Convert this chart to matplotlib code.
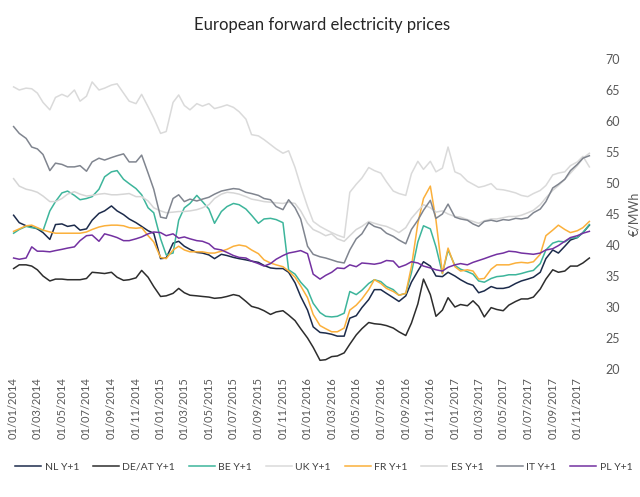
import pandas as pd
import matplotlib
matplotlib.use('Agg')
import matplotlib.pyplot as plt
import matplotlib.dates as mdates

plt.rcParams['font.family'] = ['Lato', 'DejaVu Sans']

# semi-monthly observations, 01/01/2014 .. 01/12/2017
dates = pd.date_range('2014-01-01', '2017-12-01', freq='SMS')

nl = [44.8, 43.6, 43.1, 42.9, 42.6, 42.0, 40.9, 43.3, 43.4, 43.0, 43.2, 42.4, 42.6, 44.0, 45.1, 45.5,
      46.3, 45.5, 44.9, 44.2, 43.6, 43.0, 42.3, 41.9, 37.8, 37.9, 40.3, 40.6, 39.8, 39.3, 38.8, 38.7,
      38.4, 37.8, 38.5, 38.3, 38.0, 37.8, 37.6, 37.4, 37.2, 36.7, 36.3, 36.2, 36.2, 35.6, 33.9, 31.7,
      29.5, 26.8, 25.9, 25.8, 25.6, 25.3, 25.3, 28.2, 28.6, 29.9, 31.2, 32.8, 32.8, 32.2, 31.5, 30.9,
      31.8, 34.0, 35.8, 37.3, 36.6, 35.0, 34.9, 35.6, 35.0, 34.4, 33.8, 33.5, 32.3, 32.6, 33.3, 33.0,
      33.0, 33.2, 33.8, 34.2, 34.5, 34.8, 35.6, 37.8, 39.2, 38.7, 39.8, 40.8, 41.2, 42.0, 43.2]
de_at = [36.2, 36.8, 36.8, 36.6, 36.0, 35.0, 34.2, 34.5, 34.5, 34.4, 34.4, 34.4, 34.6, 35.6, 35.5, 35.4,
         35.6, 34.8, 34.3, 34.4, 34.7, 35.9, 34.8, 33.3, 31.7, 31.8, 32.2, 33.0, 32.3, 31.9, 31.8, 31.7,
         31.6, 31.4, 31.5, 31.7, 32.0, 31.8, 30.9, 30.1, 29.8, 29.4, 28.8, 29.2, 29.4, 28.7, 27.8, 26.5,
         25.0, 23.5, 21.4, 21.5, 22.0, 22.1, 22.6, 24.0, 25.5, 26.5, 27.5, 27.3, 27.2, 27.0, 26.6, 26.0,
         25.4, 27.4, 30.5, 34.5, 32.0, 28.5, 29.5, 31.5, 30.0, 30.4, 30.2, 31.0, 30.1, 28.4, 29.9, 29.6,
         29.4, 30.3, 30.9, 31.3, 31.3, 31.6, 32.9, 34.5, 36.0, 35.6, 35.8, 36.6, 36.6, 37.1, 37.9]
be = [41.9, 42.5, 43.0, 42.8, 42.7, 42.3, 45.5, 47.0, 48.4, 48.7, 48.0, 47.3, 47.5, 47.8, 49.0, 51.0,
      51.8, 52.0, 50.6, 49.9, 49.1, 48.1, 46.0, 45.2, 41.0, 38.4, 38.7, 44.0, 46.0, 46.7, 48.0, 47.0,
      45.8, 43.5, 45.4, 46.2, 46.7, 46.5, 45.8, 44.8, 43.5, 44.2, 44.3, 44.1, 43.6, 36.0, 35.3, 34.0,
      32.8, 30.6, 29.1, 28.5, 28.4, 28.5, 29.0, 32.5, 32.0, 32.7, 33.8, 34.4, 34.1, 33.3, 32.8, 31.9,
      32.2, 35.5, 40.5, 43.1, 42.6, 39.7, 35.4, 39.2, 36.7, 36.1, 35.7, 35.3, 34.2, 34.0, 34.6, 34.9,
      35.0, 35.2, 35.2, 35.4, 35.7, 35.9, 37.0, 39.2, 40.3, 40.6, 40.5, 41.1, 41.2, 42.0, 43.3]
uk = [65.5, 65.0, 65.3, 65.2, 64.5, 63.0, 61.8, 63.8, 64.3, 63.9, 65.0, 63.2, 64.0, 66.3, 65.0, 65.3,
      65.8, 66.0, 64.5, 63.2, 62.8, 64.3, 62.3, 60.5, 58.0, 58.3, 63.0, 64.2, 62.5, 61.8, 62.8, 62.4,
      62.8, 62.0, 62.3, 62.6, 62.2, 61.5, 60.3, 57.8, 57.6, 57.0, 56.2, 55.5, 54.8, 55.2, 52.5, 49.5,
      46.2, 43.8, 43.0, 42.5, 42.0, 41.6, 41.2, 48.5, 49.8, 50.8, 52.5, 52.0, 51.6, 50.2, 48.7, 48.3,
      48.0, 51.5, 53.5, 52.2, 53.5, 51.8, 52.4, 55.8, 51.8, 51.4, 50.3, 49.8, 49.3, 49.5, 49.9, 49.0,
      48.9, 48.7, 48.4, 48.0, 47.8, 48.3, 48.8, 49.6, 51.3, 51.6, 51.8, 52.8, 53.4, 54.3, 52.6]
fr = [42.2, 42.6, 43.1, 43.2, 42.8, 42.4, 42.1, 41.9, 41.9, 41.9, 41.9, 41.9, 42.1, 42.5, 42.9, 43.1,
      43.2, 43.2, 43.1, 42.8, 42.7, 42.8, 41.5, 40.5, 38.0, 37.8, 39.2, 39.8, 39.2, 38.9, 38.9, 38.9,
      38.7, 38.7, 39.0, 39.3, 39.8, 40.0, 39.8, 39.2, 38.6, 37.6, 37.1, 36.8, 36.5, 35.8, 34.8, 33.4,
      31.5, 28.8, 27.0, 26.5, 26.0, 26.0, 26.6, 29.5, 30.3, 31.3, 32.8, 34.4, 33.8, 33.0, 32.5, 31.9,
      32.2, 36.5, 43.5, 47.5, 49.5, 44.0, 35.4, 39.5, 36.5, 35.8, 36.0, 35.8, 34.5, 34.6, 36.1, 36.8,
      36.8, 36.8, 37.1, 37.2, 37.1, 37.3, 38.5, 41.5, 42.4, 43.2, 42.5, 42.0, 42.3, 42.8, 43.8]
es = [50.7, 49.5, 49.0, 48.8, 48.5, 47.9, 47.0, 47.0, 47.5, 48.2, 48.6, 48.2, 47.9, 48.0, 48.2, 48.3,
      48.1, 48.1, 48.2, 48.3, 47.8, 47.8, 47.1, 46.0, 45.5, 45.2, 45.3, 45.4, 45.4, 45.5, 45.7, 46.0,
      46.5, 47.5, 48.2, 48.5, 48.4, 48.2, 47.8, 47.4, 47.2, 47.0, 46.9, 46.8, 46.7, 46.9, 46.7, 45.5,
      43.5, 42.5, 42.0, 41.5, 41.8, 41.0, 40.6, 41.5, 42.5, 43.0, 43.8, 43.5, 43.2, 43.0, 42.5, 42.0,
      42.8, 44.3, 45.5, 46.5, 46.0, 45.3, 45.5, 45.0, 44.6, 44.5, 44.1, 43.8, 43.5, 43.9, 44.2, 44.2,
      44.4, 44.6, 44.6, 44.8, 45.2, 45.6, 46.5, 47.6, 48.8, 49.6, 50.6, 51.6, 52.8, 54.0, 54.8]
it = [59.1, 58.0, 57.2, 55.8, 55.5, 54.6, 52.0, 53.2, 53.0, 52.6, 52.6, 52.8, 51.9, 53.4, 54.0, 53.7,
      54.1, 54.4, 54.7, 53.4, 53.4, 54.5, 51.6, 49.0, 44.5, 44.3, 47.5, 48.1, 47.0, 47.4, 47.1, 47.4,
      47.7, 48.2, 48.7, 48.9, 49.1, 49.0, 48.5, 48.3, 48.0, 47.5, 47.3, 46.2, 45.7, 47.3, 46.0, 44.2,
      39.8, 38.5, 38.1, 37.9, 37.6, 37.3, 37.1, 39.2, 41.0, 41.8, 43.6, 43.0, 42.7, 41.9, 41.4, 40.8,
      40.2, 42.5, 44.0, 45.6, 47.2, 44.3, 45.0, 46.6, 44.5, 44.2, 44.0, 43.4, 43.0, 43.8, 44.0, 43.8,
      44.1, 44.0, 44.3, 44.2, 44.4, 45.2, 45.8, 47.0, 49.2, 49.8, 50.6, 52.0, 53.0, 54.0, 54.4]
pl = [37.9, 37.7, 37.9, 39.7, 39.0, 39.0, 38.9, 39.1, 39.3, 39.5, 39.7, 40.7, 41.5, 41.6, 40.6, 41.8,
      41.5, 41.2, 40.7, 40.7, 41.0, 41.3, 41.8, 42.1, 42.0, 41.5, 41.8, 41.1, 41.3, 41.0, 40.7, 40.6,
      40.2, 39.4, 39.2, 38.8, 38.3, 38.0, 37.9, 37.4, 37.0, 36.6, 37.0, 37.7, 38.3, 38.7, 38.9, 39.1,
      38.6, 35.3, 34.5, 35.1, 35.6, 36.3, 36.2, 36.8, 36.5, 37.1, 37.0, 36.9, 37.1, 37.5, 37.4, 36.4,
      36.8, 37.3, 37.1, 36.6, 36.3, 36.0, 35.8, 36.4, 36.8, 37.0, 36.8, 37.2, 37.5, 37.8, 38.2, 38.5,
      38.7, 39.0, 38.9, 38.7, 38.6, 38.5, 38.7, 39.2, 39.4, 39.9, 40.6, 41.2, 41.5, 41.9, 42.2]

series = [
    ('NL Y+1', nl, '#1c2b4b'),
    ('DE/AT Y+1', de_at, '#2d2d2d'),
    ('BE Y+1', be, '#3db59b'),
    ('UK Y+1', uk, '#dadada'),
    ('FR Y+1', fr, '#fbb03b'),
    ('ES Y+1', es, '#d6d6d6'),
    ('IT Y+1', it, '#80858f'),
    ('PL Y+1', pl, '#7331a1'),
]

fig = plt.figure(figsize=(6.4, 4.97), dpi=100)
ax = fig.add_axes([12 / 640, 1 - 369 / 497, 581 / 640, 310 / 497])

for name, vals, col in series:
    ax.plot(dates, vals, color=col, linewidth=1.1, label=name)

ax.set_xlim(pd.Timestamp('2013-12-28'), pd.Timestamp('2017-12-10'))
ax.set_ylim(20, 70)
ax.set_yticks(range(20, 71, 5))
ax.yaxis.tick_right()
ax.yaxis.set_label_position('right')
ax.set_ylabel('€/MWh', color='#595959', fontsize=9, labelpad=6)

xt = pd.date_range('2014-01-01', '2017-11-01', freq='2MS')
ax.set_xticks(xt)
ax.xaxis.set_major_formatter(mdates.DateFormatter('%d/%m/%Y'))
ax.tick_params(axis='x', length=0, pad=6, labelsize=8, labelcolor='#595959', labelrotation=90)
ax.tick_params(axis='y', length=0, pad=9, labelsize=9, labelcolor='#595959')
for s in ax.spines.values():
    s.set_visible(False)

fig.text(0.503, 1 - 25 / 497, 'European forward electricity prices',
         ha='center', va='center', fontsize=12, color='#262626')

fig.legend(loc='center', bbox_to_anchor=(0.506, 1 - 467 / 497), ncol=8, frameon=False,
           fontsize=7.5, handlelength=2.5, handletextpad=0.3, columnspacing=1.35,
           labelcolor='#404040')

plt.savefig('out.png', dpi=100)
